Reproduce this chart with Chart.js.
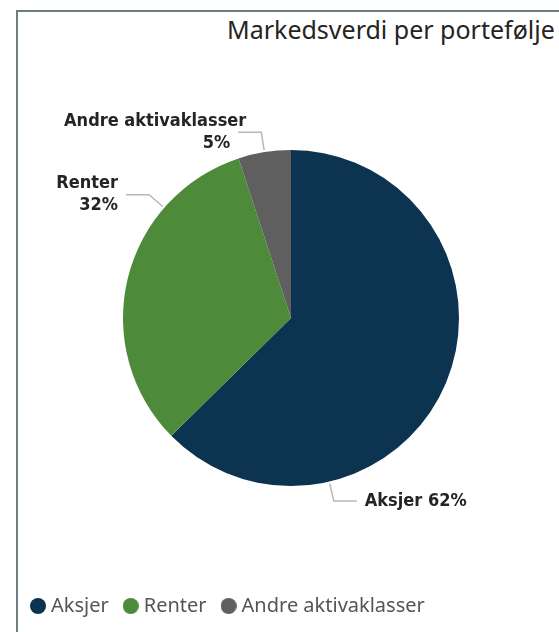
<!DOCTYPE html>
<html>
<head>
<meta charset="utf-8">
<script src="https://cdn.jsdelivr.net/npm/chart.js@4/dist/chart.umd.min.js"></script>
<style>
  html, body { margin: 0; padding: 0; background: #fff; overflow: hidden; }
  body { width: 559px; height: 632px; position: relative; }
  .frame {
    position: absolute; left: 16px; top: 10px; width: 600px; height: 700px;
    border-top: 2px solid #6f7e7d; border-left: 2px solid #6f7e7d;
  }
  .title {
    position: absolute; left: 227px; top: 12px; white-space: nowrap;
    font: 25px "Noto Sans", sans-serif; color: #252423;
  }
  .wrap { position: absolute; left: 0; top: 0; width: 566px; height: 632px; }
</style>
</head>
<body>
<div class="frame"></div>
<div class="title">Markedsverdi per portefølje</div>
<div class="wrap"><canvas id="chart"></canvas></div>
<script>
const categories = ['Aksjer', 'Renter', 'Andre aktivaklasser'];
const shares = [62, 32, 5];
const sliceColors = ['#0c3350', '#4d8a3a', '#5f5f5f'];

// where each data label hangs off its slice: fraction along the slice, which side,
// stacked (name over percent) or one line, and a nudge for the name line
const labelLayout = [
  { at: 0.74, side: 'right', stacked: false, nameShift: 0 },
  { at: 0.735, side: 'left', stacked: true, nameShift: 0 },
  { at: 0.5, side: 'left', stacked: true, nameShift: 16 },
];

// filled circle used as the legend marker, so the gap to the text stays tight
function dot(color) {
  const c = document.createElement('canvas');
  c.width = c.height = 16;
  const g = c.getContext('2d');
  g.fillStyle = color;
  g.beginPath();
  g.arc(8, 8, 8, 0, Math.PI * 2);
  g.fill();
  return c;
}
const legendDots = sliceColors.map(dot);

const calloutLabels = {
  id: 'calloutLabels',
  afterDatasetsDraw(chart) {
    const { ctx } = chart;
    const meta = chart.getDatasetMeta(0);
    ctx.save();
    ctx.font = 'bold 18px "DejaVu Sans Condensed", sans-serif';
    ctx.textBaseline = 'middle';
    meta.data.forEach((arc, i) => {
      const lay = labelLayout[i];
      const { x, y, startAngle, endAngle, outerRadius } = arc.getProps(
        ['x', 'y', 'startAngle', 'endAngle', 'outerRadius'], true);
      const a = startAngle + (endAngle - startAngle) * lay.at;
      const r0 = outerRadius + 2;
      const r1 = outerRadius + 20;
      const p0 = [x + Math.cos(a) * r0, y + Math.sin(a) * r0];
      const p1 = [x + Math.cos(a) * r1, y + Math.sin(a) * r1];
      const dir = lay.side === 'left' ? -1 : 1;
      const p2 = [p1[0] + dir * 23, p1[1]];

      ctx.strokeStyle = '#b8b8b8';
      ctx.lineWidth = 1.5;
      ctx.beginPath();
      ctx.moveTo(p0[0], p0[1]);
      ctx.lineTo(p1[0], p1[1]);
      ctx.lineTo(p2[0], p2[1]);
      ctx.stroke();

      ctx.fillStyle = '#252423';
      ctx.textAlign = dir < 0 ? 'right' : 'left';
      const tx = p2[0] + dir * 8;
      const pct = shares[i] + '%';
      if (lay.stacked) {
        ctx.fillText(categories[i], tx + lay.nameShift, p2[1] - 11);
        ctx.fillText(pct, tx, p2[1] + 11);
      } else {
        ctx.fillText(categories[i] + ' ' + pct, tx, p2[1]);
      }
    });
    ctx.restore();
  }
};

new Chart(document.getElementById('chart'), {
  type: 'pie',
  data: {
    labels: categories,
    datasets: [{
      data: shares,
      backgroundColor: sliceColors,
      borderWidth: 0,
    }],
  },
  options: {
    responsive: true,
    maintainAspectRatio: false,
    animation: false,
    radius: 168,
    layout: { padding: { left: 16, right: 0, top: 59, bottom: 6 } },
    plugins: {
      title: { display: false },
      tooltip: { enabled: false },
      legend: {
        position: 'bottom',
        align: 'start',
        labels: {
          usePointStyle: true,
          pointStyleWidth: 6,
          boxHeight: 16,
          padding: 19,
          color: '#555555',
          font: { family: '"Noto Sans", sans-serif', size: 20 },
          generateLabels(chart) {
            const items = Chart.overrides.pie.plugins.legend.labels.generateLabels(chart);
            return items.map((item, i) => ({ ...item, pointStyle: legendDots[i] }));
          },
        },
      },
    },
  },
  plugins: [calloutLabels],
});
</script>
</body>
</html>
